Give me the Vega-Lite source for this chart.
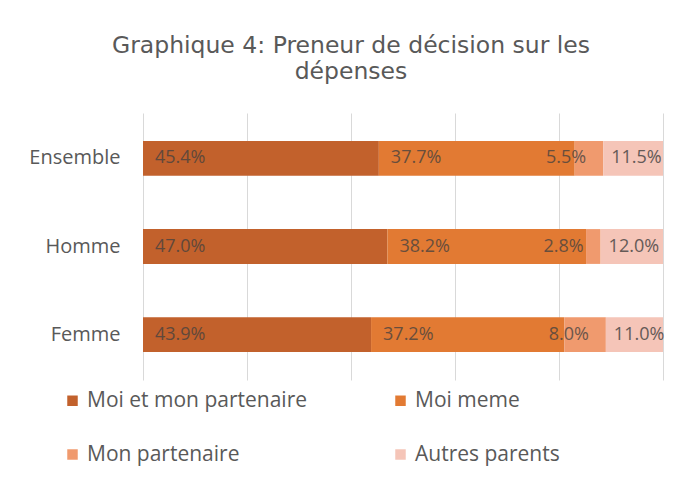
{
  "$schema": "https://vega.github.io/schema/vega-lite/v6.json",
  "width": 520,
  "height": 267,
  "autosize": {"type": "none"},
  "padding": {"left": 143, "top": 113, "right": 21, "bottom": 111},
  "background": "white",
  "title": {
    "text": ["Graphique 4: Preneur de décision sur les", "dépenses"],
    "font": "DejaVu Sans",
    "fontSize": 23.5,
    "fontWeight": "normal",
    "color": "#595959",
    "anchor": "middle",
    "frame": "group",
    "dx": -52,
    "offset": 30,
    "lineHeight": 26
  },
  "data": {
    "values": [
      {"groupe": "Ensemble", "categorie": "Moi et mon partenaire", "ordre": 1, "value": 45.4},
      {"groupe": "Ensemble", "categorie": "Moi meme", "ordre": 2, "value": 37.7},
      {"groupe": "Ensemble", "categorie": "Mon partenaire", "ordre": 3, "value": 5.5},
      {"groupe": "Ensemble", "categorie": "Autres parents", "ordre": 4, "value": 11.5},
      {"groupe": "Homme", "categorie": "Moi et mon partenaire", "ordre": 1, "value": 47.0},
      {"groupe": "Homme", "categorie": "Moi meme", "ordre": 2, "value": 38.2},
      {"groupe": "Homme", "categorie": "Mon partenaire", "ordre": 3, "value": 2.8},
      {"groupe": "Homme", "categorie": "Autres parents", "ordre": 4, "value": 12.0},
      {"groupe": "Femme", "categorie": "Moi et mon partenaire", "ordre": 1, "value": 43.9},
      {"groupe": "Femme", "categorie": "Moi meme", "ordre": 2, "value": 37.2},
      {"groupe": "Femme", "categorie": "Mon partenaire", "ordre": 3, "value": 8.0},
      {"groupe": "Femme", "categorie": "Autres parents", "ordre": 4, "value": 11.0}
    ]
  },
  "transform": [
    {"stack": "value", "groupby": ["groupe"], "sort": [{"field": "ordre", "order": "ascending"}], "offset": "normalize", "as": ["x0", "x1"]},
    {"calculate": "format(datum.value, '.1f') + '%'", "as": "etiquette"}
  ],
  "encoding": {
    "y": {
      "field": "groupe",
      "type": "nominal",
      "sort": ["Ensemble", "Homme", "Femme"],
      "scale": {"paddingInner": 0.605, "paddingOuter": 0.317},
      "axis": {
        "title": null,
        "domain": false,
        "ticks": false,
        "labelPadding": 23,
        "labelFont": "Open Sans",
        "labelFontSize": 20,
        "labelColor": "#595959"
      }
    }
  },
  "layer": [
    {
      "mark": {"type": "bar"},
      "encoding": {
        "x": {
          "field": "x0",
          "type": "quantitative",
          "scale": {"domain": [0, 1], "nice": false},
          "axis": {
            "title": null,
            "labels": false,
            "ticks": false,
            "domain": false,
            "grid": true,
            "gridColor": "#D9D9D9",
            "gridWidth": 1,
            "values": [0, 0.2, 0.4, 0.6, 0.8, 1]
          }
        },
        "x2": {"field": "x1"},
        "color": {
          "field": "categorie",
          "type": "nominal",
          "scale": {
            "domain": ["Moi et mon partenaire", "Moi meme", "Mon partenaire", "Autres parents"],
            "range": ["#C2612C", "#E27A33", "#F09A6E", "#F5C5B8"]
          },
          "legend": {
            "title": null,
            "orient": "none",
            "legendX": -81,
            "legendY": 277,
            "columns": 2,
            "direction": "horizontal",
            "columnPadding": 82,
            "rowPadding": 32,
            "symbolType": "square",
            "symbolSize": 110,
            "symbolOpacity": 1,
            "symbolStrokeWidth": 0,
            "labelOffset": 4,
            "labelFont": "Open Sans",
            "labelFontSize": 21,
            "labelColor": "#595959",
            "labelLimit": 400
          }
        },
        "order": {"field": "ordre"}
      }
    },
    {
      "transform": [{"filter": "datum.ordre <= 2"}],
      "mark": {"type": "text", "align": "left", "baseline": "middle", "dx": 12, "font": "Open Sans", "fontSize": 18, "color": "#404040", "opacity": 0.75},
      "encoding": {
        "x": {"field": "x0", "type": "quantitative"},
        "text": {"field": "etiquette"}
      }
    },
    {
      "transform": [{"filter": "datum.ordre == 3"}],
      "mark": {"type": "text", "align": "right", "baseline": "middle", "dx": -17, "font": "Open Sans", "fontSize": 18, "color": "#404040", "opacity": 0.75},
      "encoding": {
        "x": {"field": "x1", "type": "quantitative"},
        "text": {"field": "etiquette"}
      }
    },
    {
      "transform": [{"filter": "datum.ordre == 4"}],
      "mark": {"type": "text", "align": "left", "baseline": "middle", "dx": 8, "font": "Open Sans", "fontSize": 18, "color": "#404040", "opacity": 0.8},
      "encoding": {
        "x": {"field": "x0", "type": "quantitative"},
        "text": {"field": "etiquette"}
      }
    }
  ],
  "config": {
    "view": {"stroke": null}
  }
}
